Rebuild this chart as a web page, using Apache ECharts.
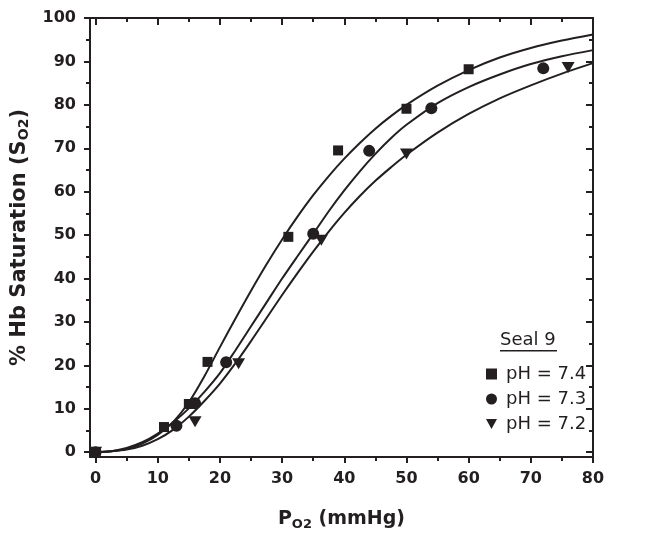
<!DOCTYPE html>
<html>
<head>
<meta charset="utf-8">
<script src="https://cdn.jsdelivr.net/npm/echarts@6/dist/echarts.min.js"></script>
<style>html,body{margin:0;padding:0;background:#fff;}#c{width:652px;height:536px;}</style>
</head>
<body>
<div id="c"></div>
<script>
// ---- data ----
const seriesNames = ['pH = 7.4', 'pH = 7.3', 'pH = 7.2'];
const legendTitle = 'Seal 9';
const xTicks = [0, 10, 20, 30, 40, 50, 60, 70, 80];
const xMinor = [5, 15, 25, 35, 45, 55, 65, 75];
const yTicks = [0, 10, 20, 30, 40, 50, 60, 70, 80, 90, 100];
const yMinor = [5, 15, 25, 35, 45, 55, 65, 75, 85, 95];

// measured points [PO2, SO2]
const pts74 = [[0, 0], [11, 5.8], [15, 11.1], [18, 20.8], [31, 49.6], [39, 69.5], [50, 79.1], [60, 88.2]];
const pts73 = [[0, 0], [13, 6.1], [16, 11.3], [21, 20.7], [35, 50.3], [44, 69.4], [54, 79.2], [72, 88.4]];
const pts72 = [[0, 0], [16, 7.0], [23, 20.4], [36.3, 48.8], [50, 68.7], [76, 88.6]];

// fitted curves read along x
const curveX = [0, 2.5, 5, 7.5, 10, 12.5, 15, 17.5, 20, 22.5, 25, 27.5, 30, 32.5, 35, 37.5, 40, 42.5, 45, 47.5, 50, 55, 60, 65, 70, 75, 80];
const curve74 = [0, 0.2, 0.8, 2.0, 4.0, 7.0, 11.5, 17.5, 24.2, 30.8, 37.2, 43.3, 49.0, 54.3, 59.2, 63.6, 67.6, 71.2, 74.5, 77.4, 80.0, 84.4, 88.0, 90.9, 93.1, 94.8, 96.2];
const curve73 = [0, 0.25, 1.0, 2.3, 4.3, 6.9, 10.1, 13.9, 18.2, 23.5, 29.0, 34.5, 40.0, 45.2, 50.3, 55.5, 60.3, 64.7, 68.7, 72.3, 75.4, 80.4, 84.1, 87.0, 89.4, 91.2, 92.6];
const curve72 = [0, 0.2, 0.6, 1.5, 3.0, 5.2, 8.2, 11.8, 15.8, 20.5, 25.6, 30.9, 36.2, 41.3, 46.2, 50.8, 55.1, 59.0, 62.5, 65.6, 68.5, 73.6, 77.9, 81.5, 84.5, 87.2, 89.6];

const INK = '#231f20';
const FONT = '"DejaVu Sans", Verdana, sans-serif';
const triPath = 'path://M0,0 L10,0 L5,9 Z';
const symbols = ['rect', 'circle', triPath];
const symSizes = [10, 12, [13, 11]];

function zip(xs, ys) { return xs.map((x, i) => [x, ys[i]]); }

const chart = echarts.init(document.getElementById('c'), null, { renderer: 'canvas' });

const XMIN = -0.9, XMAX = 80, YMIN = -1.1, YMAX = 100;
const lineStyleAxis = { color: INK, width: 2 };
const labelStyle = { color: INK, fontFamily: FONT, fontWeight: 'bold', fontSize: 16 };

function xAx(pos, ticks, len, inside, labels, line, name) {
  const a = {
    type: 'value', position: pos, min: XMIN, max: XMAX, gridIndex: 0,
    axisLine: { show: line, onZero: false, lineStyle: lineStyleAxis },
    axisTick: { show: true, inside: inside, length: len, customValues: ticks, lineStyle: { color: INK, width: 2 } },
    axisLabel: labels ? Object.assign({ show: true, customValues: ticks, margin: 14 }, labelStyle) : { show: false },
    splitLine: { show: false }
  };
  if (name) Object.assign(a, name);
  return a;
}
function yAx(pos, ticks, len, inside, labels, line, name) {
  const a = {
    type: 'value', position: pos, min: YMIN, max: YMAX, gridIndex: 0,
    axisLine: { show: line, onZero: false, lineStyle: lineStyleAxis },
    axisTick: { show: true, inside: inside, length: len, customValues: ticks, lineStyle: { color: INK, width: 2 } },
    axisLabel: labels ? Object.assign({ show: true, customValues: ticks, margin: 14 }, labelStyle) : { show: false },
    splitLine: { show: false }
  };
  if (name) Object.assign(a, name);
  return a;
}

function richFor(size, subSize, pad) {
  return {
    base: { fontFamily: FONT, fontWeight: 'bold', fontSize: size, color: INK },
    sub: { fontFamily: FONT, fontWeight: 'bold', fontSize: subSize, color: INK, padding: [pad, 0, 0, 0] }
  };
}

const option = {
  backgroundColor: '#ffffff',
  animation: false,
  grid: { left: 90, right: 59, top: 18, bottom: 72, containLabel: false },
  xAxis: [
    xAx('bottom', xTicks, 6, false, true, true, {
      name: '{base|P}{sub|O2}{base| (mmHg)}', nameLocation: 'middle', nameGap: 51,
      nameTextStyle: { rich: richFor(19, 13, 10) }
    }),
    xAx('bottom', xMinor, 4, false, false, false),
    xAx('top', xTicks, 7, true, false, true),
    xAx('top', xMinor, 4, true, false, false)
  ],
  yAxis: [
    yAx('left', yTicks, 6, false, true, true, {
      name: '{base|% Hb Saturation (S}{sub|O2}{base|)}', nameLocation: 'middle', nameGap: 57,
      nameRotate: 90, nameTextStyle: { rich: richFor(21, 14, 11) }
    }),
    yAx('left', yMinor, 4, false, false, false),
    yAx('right', yTicks, 7, true, false, true),
    yAx('right', yMinor, 4, true, false, false)
  ],
  legend: {
    data: seriesNames,
    orient: 'vertical',
    left: 481, top: 360,
    itemWidth: 11, itemHeight: 11, itemGap: 7,
    textStyle: { color: INK, fontFamily: FONT, fontSize: 18, padding: [0, 0, 0, 4] },
    itemStyle: { opacity: 1 },
    selectedMode: false
  },
  graphic: [
    { type: 'text', left: 500, top: 331, style: { text: legendTitle, fill: INK, font: '18px ' + FONT } },
    { type: 'rect', left: 500, top: 350, shape: { width: 57, height: 1.4 }, style: { fill: INK } }
  ],
  series: []
};

const ptsAll = [pts74, pts73, pts72];
const curvesAll = [curve74, curve73, curve72];
for (let i = 0; i < 3; i++) {
  option.series.push({
    type: 'line', name: 'fit' + i, data: zip(curveX, curvesAll[i]), smooth: 0.3,
    showSymbol: false, symbol: 'none', lineStyle: { color: INK, width: 2 }, z: 2,
    xAxisIndex: 0, yAxisIndex: 0, silent: true
  });
}
for (let i = 0; i < 3; i++) {
  option.series.push({
    type: 'scatter', name: seriesNames[i], data: ptsAll[i], symbol: symbols[i],
    symbolSize: symSizes[i], itemStyle: { color: INK, opacity: 1 }, z: 3,
    xAxisIndex: 0, yAxisIndex: 0
  });
}
chart.setOption(option);
</script>
</body>
</html>
